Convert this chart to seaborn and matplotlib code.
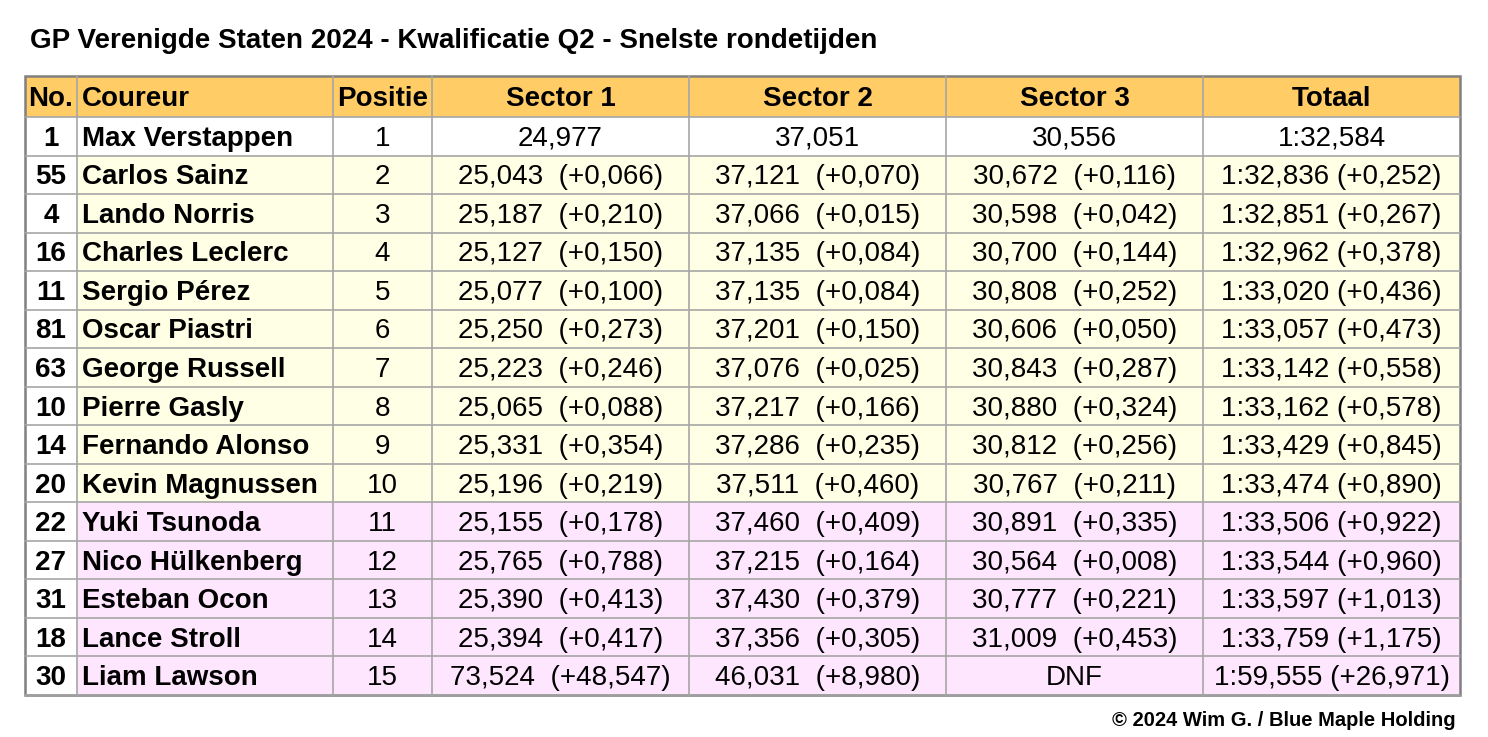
import matplotlib
matplotlib.use("Agg")
import matplotlib.pyplot as plt
import seaborn as sns
from matplotlib.patches import Rectangle

# Gegevens
kolommen = ["No.", "Coureur", "Positie", "Sector 1", "Sector 2", "Sector 3", "Totaal"]
nummers = ["1", "55", "4", "16", "11", "81", "63", "10", "14", "20", "22", "27", "31", "18", "30"]
coureurs = ["Max Verstappen", "Carlos Sainz", "Lando Norris", "Charles Leclerc", "Sergio Pérez",
            "Oscar Piastri", "George Russell", "Pierre Gasly", "Fernando Alonso", "Kevin Magnussen",
            "Yuki Tsunoda", "Nico Hülkenberg", "Esteban Ocon", "Lance Stroll", "Liam Lawson"]
posities = list(range(1, 16))
sector1 = ["24,977", "25,043  (+0,066)", "25,187  (+0,210)", "25,127  (+0,150)", "25,077  (+0,100)",
           "25,250  (+0,273)", "25,223  (+0,246)", "25,065  (+0,088)", "25,331  (+0,354)",
           "25,196  (+0,219)", "25,155  (+0,178)", "25,765  (+0,788)", "25,390  (+0,413)",
           "25,394  (+0,417)", "73,524  (+48,547)"]
sector2 = ["37,051", "37,121  (+0,070)", "37,066  (+0,015)", "37,135  (+0,084)", "37,135  (+0,084)",
           "37,201  (+0,150)", "37,076  (+0,025)", "37,217  (+0,166)", "37,286  (+0,235)",
           "37,511  (+0,460)", "37,460  (+0,409)", "37,215  (+0,164)", "37,430  (+0,379)",
           "37,356  (+0,305)", "46,031  (+8,980)"]
sector3 = ["30,556", "30,672  (+0,116)", "30,598  (+0,042)", "30,700  (+0,144)", "30,808  (+0,252)",
           "30,606  (+0,050)", "30,843  (+0,287)", "30,880  (+0,324)", "30,812  (+0,256)",
           "30,767  (+0,211)", "30,891  (+0,335)", "30,564  (+0,008)", "30,777  (+0,221)",
           "31,009  (+0,453)", "DNF"]
totaal = ["1:32,584", "1:32,836 (+0,252)", "1:32,851 (+0,267)", "1:32,962 (+0,378)",
          "1:33,020 (+0,436)", "1:33,057 (+0,473)", "1:33,142 (+0,558)", "1:33,162 (+0,578)",
          "1:33,429 (+0,845)", "1:33,474 (+0,890)", "1:33,506 (+0,922)", "1:33,544 (+0,960)",
          "1:33,597 (+1,013)", "1:33,759 (+1,175)", "1:59,555 (+26,971)"]

# Opmaak
kol_grenzen = [25, 77, 333, 432, 689, 946, 1203, 1460]
tabel_top, kop_onder, tabel_onder = 76, 117, 695
kleur_kop = "#FFCC66"
kleur_geel = "#FFFFE6"
kleur_roze = "#FFE6FF"
lijn_binnen = "#A6A6A6"
lijn_buiten = "#808080"

sns.set_theme(style="white")
plt.rcParams["font.family"] = ["Liberation Sans", "DejaVu Sans"]
plt.rcParams["text.color"] = "black"

fig = plt.figure(figsize=(14.88, 7.37), dpi=100)
ax = fig.add_axes([0, 0, 1, 1])
ax.set_xlim(0, 1488)
ax.set_ylim(737, 0)
ax.axis("off")

n = len(coureurs)
rij_h = (tabel_onder - kop_onder) / n

# Kopregel
for j, kol in enumerate(kolommen):
    x0, x1 = kol_grenzen[j], kol_grenzen[j + 1]
    ax.add_patch(Rectangle((x0, tabel_top), x1 - x0, kop_onder - tabel_top,
                           facecolor=kleur_kop, edgecolor="none"))
    yk = (tabel_top + kop_onder) / 2 + 2.5
    if kol == "Coureur":
        ax.text(x0 + 5, yk, kol, ha="left", va="center", fontsize=20, fontweight="bold")
    else:
        ax.text((x0 + x1) / 2, yk, kol, ha="center", va="center", fontsize=20, fontweight="bold")

# Rijen
for i in range(n):
    y0 = kop_onder + i * rij_h
    yc = y0 + rij_h / 2 + 2.5
    pos = posities[i]
    if pos == 1:
        kleur = "white"
    elif pos <= 10:
        kleur = kleur_geel
    else:
        kleur = kleur_roze
    ax.add_patch(Rectangle((kol_grenzen[1], y0), kol_grenzen[-1] - kol_grenzen[1], rij_h,
                           facecolor=kleur, edgecolor="none"))
    waarden = [nummers[i], coureurs[i], str(pos), sector1[i], sector2[i], sector3[i], totaal[i]]
    for j, w in enumerate(waarden):
        x0, x1 = kol_grenzen[j], kol_grenzen[j + 1]
        vet = "bold" if j < 2 else "normal"
        if j == 1:
            ax.text(x0 + 5, yc, w, ha="left", va="center", fontsize=20, fontweight=vet)
        else:
            ax.text((x0 + x1) / 2, yc, w, ha="center", va="center", fontsize=20, fontweight=vet)

# Rasterlijnen
for i in range(1, n + 1):
    y = kop_onder + i * rij_h
    ax.plot([kol_grenzen[0], kol_grenzen[-1]], [y, y], color=lijn_binnen, lw=1.2)
ax.plot([kol_grenzen[0], kol_grenzen[-1]], [kop_onder, kop_onder], color=lijn_binnen, lw=1.2)
for x in kol_grenzen[1:-1]:
    ax.plot([x, x], [tabel_top, tabel_onder], color=lijn_binnen, lw=1.2)
ax.add_patch(Rectangle((kol_grenzen[0], tabel_top), kol_grenzen[-1] - kol_grenzen[0],
                       tabel_onder - tabel_top, facecolor="none", edgecolor=lijn_buiten, lw=1.8))

ax.text(30, 41, "GP Verenigde Staten 2024 - Kwalificatie Q2 - Snelste rondetijden",
        ha="left", va="center", fontsize=20, fontweight="bold")
ax.text(1456, 721, "© 2024 Wim G. / Blue Maple Holding", ha="right", va="center",
        fontsize=14.5, fontweight="bold")

fig.savefig("out.png", dpi=100, facecolor="white")
